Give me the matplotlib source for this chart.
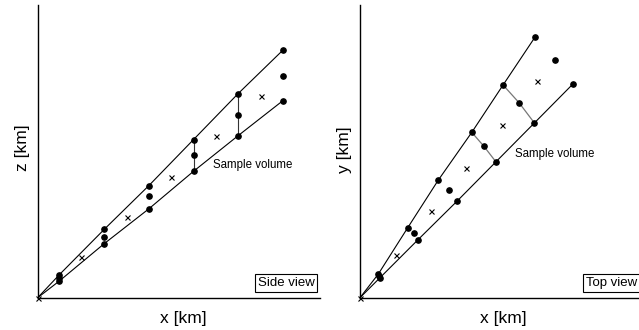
import matplotlib
matplotlib.use("Agg")
import matplotlib.pyplot as plt

plt.rcParams['font.family'] = ['Liberation Sans', 'DejaVu Sans']

# ---- Side view data (km, arbitrary units) ----
side_gate_x = [0.48, 1.49, 2.49, 3.49, 4.48, 5.49]
side_upper_z = [0.51, 1.53, 2.51, 3.54, 4.56, 5.54]
side_mid_z = [0.43, 1.36, 2.28, 3.19, 4.09, 4.95]
side_lower_z = [0.37, 1.21, 1.99, 2.83, 3.62, 4.41]
side_cross_x = [0.0, 0.98, 1.99, 2.99, 3.99, 5.0]
side_cross_z = [0.0, 0.91, 1.80, 2.71, 3.62, 4.52]

# ---- Top view data ----
top_upper_x = [0.41, 1.07, 1.75, 2.50, 3.20, 3.92]
top_upper_y = [0.53, 1.57, 2.63, 3.70, 4.76, 5.84]
top_mid_x = [0.43, 1.20, 1.98, 2.77, 3.56, 4.37]
top_mid_y = [0.49, 1.45, 2.41, 3.39, 4.36, 5.33]
top_lower_x = [0.45, 1.30, 2.17, 3.04, 3.90, 4.77]
top_lower_y = [0.45, 1.30, 2.16, 3.04, 3.91, 4.79]
top_cross_x = [0.0, 0.80, 1.59, 2.37, 3.17, 3.96]
top_cross_y = [0.0, 0.96, 1.94, 2.91, 3.87, 4.85]

connect_gates = [3, 4]

W, H = 639, 330
fig = plt.figure(figsize=(W / 100, H / 100), dpi=100)

ax1 = fig.add_axes([37.7 / W, (H - 297.7) / H, 282.3 / W, 292.7 / H])
ax2 = fig.add_axes([360 / W, (H - 297.7) / H, 279 / W, 292.7 / H])

dot_kw = dict(ls='none', marker='o', ms=3.8, color='black', zorder=4, clip_on=False)
cross_kw = dict(ls='none', marker='x', ms=3.6, mew=0.8, color='black', zorder=4, clip_on=False)
line_kw = dict(color='black', lw=0.8, zorder=2)


def style(ax, xmax):
    ax.set_xlim(0, xmax)
    ax.set_ylim(0, 6.55)
    for s in ['top', 'right']:
        ax.spines[s].set_visible(False)
    for s in ['left', 'bottom']:
        ax.spines[s].set_linewidth(1.0)
        ax.spines[s].set_color('black')
    ax.set_xticks([])
    ax.set_yticks([])
    ax.patch.set_alpha(0)


# Side view
style(ax1, 6.32)
ax1.plot([0] + side_gate_x, [0] + side_upper_z, **line_kw)
ax1.plot([0] + side_gate_x, [0] + side_lower_z, **line_kw)
for i in connect_gates:
    ax1.plot([side_gate_x[i], side_gate_x[i]], [side_upper_z[i], side_lower_z[i]],
             color='#333333', lw=0.8, zorder=2)
ax1.plot(side_gate_x, side_upper_z, **dot_kw)
ax1.plot(side_gate_x, side_mid_z, **dot_kw)
ax1.plot(side_gate_x, side_lower_z, **dot_kw)
ax1.plot(side_cross_x, side_cross_z, **cross_kw)

# Top view
style(ax2, 6.24)
ax2.plot([0] + top_upper_x, [0] + top_upper_y, **line_kw)
ax2.plot([0] + top_lower_x, [0] + top_lower_y, **line_kw)
for i in connect_gates:
    ax2.plot([top_upper_x[i], top_mid_x[i], top_lower_x[i]],
             [top_upper_y[i], top_mid_y[i], top_lower_y[i]],
             color='#777777', lw=0.9, zorder=2)
ax2.plot(top_upper_x, top_upper_y, **dot_kw)
ax2.plot(top_mid_x, top_mid_y, **dot_kw)
ax2.plot(top_lower_x, top_lower_y, **dot_kw)
ax2.plot(top_cross_x, top_cross_y, **cross_kw)

# Texts
def fx(px):
    return px / W


def fy(py):
    return 1 - py / H


fig.text(fx(22), fy(148), 'z [km]', rotation=90, ha='center', va='center', fontsize=12.5)
fig.text(fx(183), fy(318), 'x [km]', ha='center', va='center', fontsize=12.5)
fig.text(fx(344), fy(150), 'y [km]', rotation=90, ha='center', va='center', fontsize=12.5)
fig.text(fx(503), fy(318), 'x [km]', ha='center', va='center', fontsize=12.5)

fig.text(fx(213), fy(165), 'Sample volume', ha='left', va='center', fontsize=8.3)
fig.text(fx(515), fy(154), 'Sample volume', ha='left', va='center', fontsize=8.3)

box = dict(boxstyle='square,pad=0.22', fc='white', ec='black', lw=0.8)
fig.text(fx(286), fy(283), 'Side view', ha='center', va='center', fontsize=9.5, bbox=box)
fig.text(fx(586), fy(283), 'Top view', ha='left', va='center', fontsize=9.5, bbox=box)

fig.savefig('out.png', dpi=100)
